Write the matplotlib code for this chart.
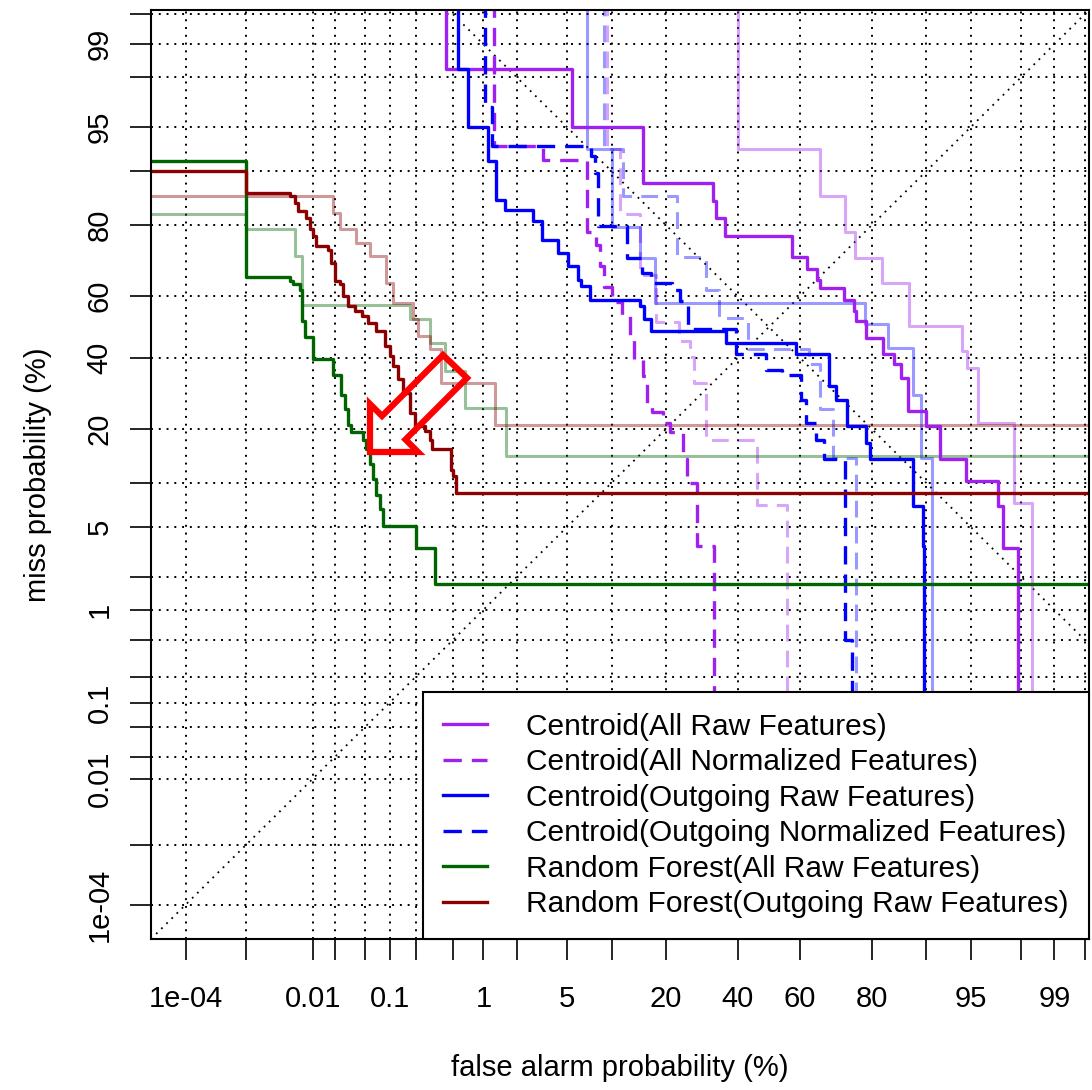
import numpy as np
import matplotlib.pyplot as plt
from matplotlib.patches import Polygon
from statistics import NormalDist

plt.rcParams['font.family'] = ['Liberation Sans', 'DejaVu Sans']

# DET step curves: false alarm (%) where each drop happens, miss (%) after the drop
cent_all_raw_fa = [0.42, 0.42, 5.4, 15.2, 32.4, 33.4, 35.9, 57.4, 62.1, 65.2, 66.2, 73.1, 75.7, 76.1,
                   78.6, 82.3, 84.7, 85.9, 87.1, 90.0, 91.8, 94.6, 96.9, 97.2, 97.9]
cent_all_raw_miss = [99.9999, 98.3, 95.0, 88.2, 85.0, 81.6, 77.2, 71.9, 68.5, 65.0, 62.7, 58.9, 55.2, 51.9,
                     46.5, 41.1, 37.9, 33.8, 24.4, 20.7, 13.8, 10.2, 7.0, 3.46, 1e-9]

cent_all_norm_fa = [1.24, 1.24, 3.26, 6.9, 7.9, 8.4, 9.0, 10.0, 11.6, 12.8, 13.5, 15.2, 16.1, 17.1,
                    19.3, 21.1, 24.1, 25.3, 28.0, 32.8]
cent_all_norm_miss = [99.9999, 93.2, 91.6, 78.2, 75.1, 69.1, 63.0, 58.3, 54.1, 47.5, 39.5, 34.2, 26.7, 24.1,
                      21.6, 19.3, 13.8, 10.0, 3.56, 1e-9]

cent_out_raw_fa = [0.56, 0.56, 0.71, 1.11, 1.32, 1.56, 2.74, 3.2, 4.3, 5.1, 6.0, 6.3, 7.2, 14.6, 15.5, 16.8,
                   36.2, 58.6, 68.8, 70.7, 73.9, 78.5, 79.6, 88.0, 89.5, 89.7]
cent_out_raw_miss = [99.9999, 98.3, 95.0, 91.4, 85.3, 83.3, 80.8, 76.4, 72.9, 69.2, 65.2, 63.2, 58.9, 56.8,
                     52.5, 48.6, 44.8, 41.1, 31.3, 27.5, 20.7, 17.0, 13.8, 7.0, 3.56, 1e-9]

cent_out_norm_fa = [1.03, 1.03, 1.19, 7.4, 7.8, 8.2, 12.3, 15.0, 16.9, 21.4, 23.4, 25.6, 39.3, 48.9, 54.4,
                    60.2, 61.8, 64.8, 67.4, 73.3, 75.2]
cent_out_norm_miss = [99.9999, 96.5, 93.2, 92.0, 89.8, 79.7, 71.6, 67.3, 64.3, 62.1, 58.4, 49.2, 41.1, 36.3,
                      34.8, 27.5, 21.6, 17.7, 13.8, 0.5, 1e-9]

rf_all_fa = [1e-6, 0.001, 0.0047, 0.0052, 0.0066, 0.0070, 0.0077, 0.010, 0.0189, 0.0247, 0.0273, 0.030,
             0.0327, 0.047, 0.051, 0.057, 0.062, 0.069, 0.076, 0.083, 0.203, 0.323, 99.99]
rf_all_miss = [91.4, 65.9, 64.7, 63.7, 62.1, 51.9, 46.6, 39.5, 34.8, 28.9, 24.9, 21.1,
               19.3, 17.7, 15.7, 12.9, 10.5, 8.4, 6.7, 5.1, 3.46, 1.73, 1.73]

rf_out_fa = [1e-6, 0.001, 0.0047, 0.0056, 0.0062, 0.0082, 0.0091, 0.0102, 0.0113, 0.0163, 0.0182, 0.020,
             0.0234, 0.026, 0.030, 0.037, 0.045, 0.054, 0.069, 0.087, 0.10, 0.109, 0.125, 0.143, 0.17,
             0.194, 0.252, 0.285, 0.30, 0.483, 0.50, 0.543, 99.99]
rf_out_miss = [90.0, 86.5, 85.9, 84.7, 83.0, 81.6, 78.9, 77.3, 74.7, 73.8, 70.1, 64.7,
               63.7, 60.0, 56.8, 55.2, 53.5, 51.4, 48.6, 43.7, 40.5, 37.3, 33.3, 29.4, 24.0,
               20.7, 19.6, 17.7, 15.7, 12.0, 11.0, 8.6, 8.6]

# faded curves (second run, no legend entry)
old_all_raw_fa = [40.0, 40.0, 66.2, 73.3, 75.9, 82.2, 87.4, 94.2, 94.7, 95.6, 97.7, 98.4]
old_all_raw_miss = [99.9999, 92.8, 85.9, 78.4, 71.4, 64.0, 50.2, 42.1, 36.9, 21.4, 7.4, 1e-9]

old_all_norm_fa = [9.3, 9.3, 11.2, 14.6, 17.8, 23.3, 25.9, 27.2, 30.3, 46.0, 56.0]
old_all_norm_miss = [99.9999, 92.8, 82.3, 66.7, 51.8, 45.3, 40.4, 32.4, 17.7, 7.2, 1e-9]

old_out_raw_fa = [6.9, 6.9, 10.0, 14.6, 17.6, 78.4, 83.4, 88.0, 89.3, 90.8]
old_out_raw_miss = [99.9999, 92.8, 79.4, 71.6, 57.7, 51.1, 43.2, 28.9, 14.1, 1e-9]

old_out_norm_fa = [9.0, 9.0, 11.8, 22.6, 30.3, 34.1, 43.1, 62.9, 66.2, 69.8, 76.2]
old_out_norm_miss = [99.9999, 92.8, 85.9, 71.9, 62.1, 53.1, 42.7, 37.9, 24.9, 14.1, 1e-9]

old_rf_all_fa = [1e-6, 0.001, 0.0056, 0.0070, 0.17, 0.285, 0.41, 0.66, 1.62, 99.99]
old_rf_all_miss = [82.4, 78.9, 72.0, 57.3, 52.5, 44.9, 35.8, 25.3, 14.4, 14.4]

old_rf_out_fa = [1e-6, 0.0191, 0.0234, 0.0387, 0.057, 0.091, 0.109, 0.186, 0.212, 0.285, 0.38, 1.27, 99.99]
old_rf_out_miss = [85.9, 82.6, 78.9, 75.6, 72.0, 64.2, 57.9, 52.5, 47.0, 42.7, 32.3, 21.1, 21.1]

grid_pct = [1e-4, 1e-3, 1e-2, 2e-2, 5e-2, 0.1, 0.2, 0.5, 1, 2, 5, 10, 20, 40, 60, 80, 90, 95, 98, 99, 99.5]
grid_lab = ['1e-04', '', '0.01', '', '', '0.1', '', '', '1', '', '5', '', '20', '40', '60', '80', '',
            '95', '', '99', '']

nd = NormalDist()


def to_probit(p):
    p = np.clip(np.asarray(p, dtype=float) / 100.0, 1e-15, 1 - 1e-15)
    return np.vectorize(nd.inv_cdf, otypes=[float])(p)


def from_probit(z):
    return np.vectorize(nd.cdf, otypes=[float])(np.asarray(z, dtype=float)) * 100.0


fig = plt.figure(figsize=(10.92, 10.90), dpi=100)
ax = fig.add_axes([151 / 1092, 1 - 939 / 1090, 938 / 1092, 929 / 1090])
ax.set_xscale('function', functions=(to_probit, from_probit))
ax.set_yscale('function', functions=(to_probit, from_probit))
lo = nd.cdf(-5.036) * 100
hi = nd.cdf(2.609) * 100
ax.set_xlim(lo, hi)
ax.set_ylim(lo, hi)

ax.set_xticks(grid_pct)
ax.set_xticklabels(grid_lab)
ax.set_yticks(grid_pct)
ax.set_yticklabels(grid_lab)
ax.minorticks_off()
ax.grid(True, color='black', linestyle=(0, (1, 3)), linewidth=1.4)
ax.set_axisbelow(True)
ax.tick_params(direction='out', length=15, width=1.2, labelsize=21, color='black')
ax.tick_params(axis='x', pad=18)
ax.tick_params(axis='y', pad=12, labelrotation=90)
for lab in ax.get_yticklabels():
    lab.set_va('center')
for s in ax.spines.values():
    s.set_linewidth(1.5)

# chance and equal-error diagonals
ax.plot([lo, hi], [lo, hi], color='black', linestyle=(0, (1, 3)), linewidth=1.3)
ax.plot([lo, hi], [100 - lo, 100 - hi], color='black', linestyle=(0, (1, 3)), linewidth=1.3)

faded = [
    (old_all_raw_fa, old_all_raw_miss, '#A020F0', '-'),
    (old_all_norm_fa, old_all_norm_miss, '#A020F0', (0, (5.5, 3))),
    (old_out_raw_fa, old_out_raw_miss, '#0000FF', '-'),
    (old_out_norm_fa, old_out_norm_miss, '#0000FF', (0, (5.5, 3))),
    (old_rf_all_fa, old_rf_all_miss, '#006400', '-'),
    (old_rf_out_fa, old_rf_out_miss, '#8B0000', '-'),
]
for fa, miss, c, ls in faded:
    ax.plot(fa, miss, drawstyle='steps-post', color=c, alpha=0.4, linestyle=ls, linewidth=2.2)

main = [
    (cent_all_raw_fa, cent_all_raw_miss, '#A020F0', '-', 'Centroid(All Raw Features)'),
    (cent_all_norm_fa, cent_all_norm_miss, '#A020F0', (0, (5.5, 3)), 'Centroid(All Normalized Features)'),
    (cent_out_raw_fa, cent_out_raw_miss, '#0000FF', '-', 'Centroid(Outgoing Raw Features)'),
    (cent_out_norm_fa, cent_out_norm_miss, '#0000FF', (0, (5.5, 3)), 'Centroid(Outgoing Normalized Features)'),
    (rf_all_fa, rf_all_miss, '#006400', '-', 'Random Forest(All Raw Features)'),
    (rf_out_fa, rf_out_miss, '#8B0000', '-', 'Random Forest(Outgoing Raw Features)'),
]
for fa, miss, c, ls, lab in main:
    ax.plot(fa, miss, drawstyle='steps-post', color=c, linestyle=ls, linewidth=2.4, label=lab)

ax.set_xlabel('false alarm probability (%)', fontsize=21, labelpad=30)
ax.set_ylabel('miss probability (%)', fontsize=21, labelpad=24)

leg = ax.legend(loc='lower right', bbox_to_anchor=(1.0, 0.0), fontsize=21.5, frameon=True, fancybox=False,
                framealpha=1, edgecolor='black', handlelength=1.45, handletextpad=1.3, labelspacing=0.25,
                borderpad=0.7, borderaxespad=0)
leg.get_frame().set_linewidth(1.5)

# hollow red arrow annotation (figure pixel positions)
arrow_px = [(370, 452), (370, 404), (382, 416), (443, 355), (467, 378), (405.5, 439.5), (418, 452)]
arrow = Polygon([(x / 1092, 1 - y / 1090) for x, y in arrow_px], closed=True, transform=fig.transFigure,
                facecolor='none', edgecolor='#FF0000', linewidth=4.5, joinstyle='miter', zorder=10)
fig.patches.append(arrow)

fig.savefig('out.png', dpi=100)
